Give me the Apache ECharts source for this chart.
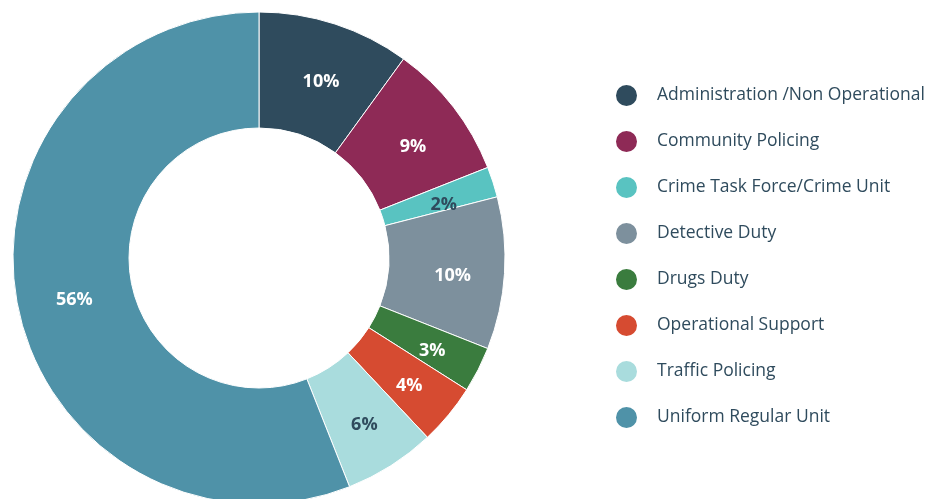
<!DOCTYPE html>
<html><head><meta charset="utf-8">
<script src="https://cdn.jsdelivr.net/npm/echarts@6/dist/echarts.min.js"></script>
<style>html,body{margin:0;padding:0;background:#fff}#c{width:929px;height:499px}</style>
</head><body><div id="c"></div>
<script>
const categories = ["Administration /Non Operational","Community Policing","Crime Task Force/Crime Unit","Detective Duty","Drugs Duty","Operational Support","Traffic Policing","Uniform Regular Unit"];
const values = [10, 9, 2, 10, 3, 4, 6, 56];
const colors = ["#2f4b5d","#8e2a56","#59c3c1","#7d909d","#3a7c3e","#d64b31","#a9dcdd","#4f92a8"];
const labelColors = ["#fff","#fff","#2f4b5d","#fff","#fff","#fff","#2f4b5d","#fff"];

const chart = echarts.init(document.getElementById('c'));
chart.setOption({
  animation: false,
  legend: {
    orient: 'vertical', left: 609, top: 78,
    icon: 'circle', itemWidth: 23, itemHeight: 23, itemGap: 21,
    data: categories,
    textStyle: { fontFamily: 'Open Sans', fontSize: 17.5, lineHeight: 23, color: '#2f4b5d', padding: [0,0,0,14] }
  },
  series: [{
    type: 'pie', center: [259, 258], radius: [130, 246], startAngle: 90, clockwise: true,
    avoidLabelOverlap: false,
    itemStyle: { borderColor: '#fff', borderWidth: 1 },
    label: { show: true, position: 'inside', fontFamily: 'Open Sans', fontWeight: 'bold', fontSize: 18,
      offset: [3, 6], formatter: p => p.value + '%' },
    labelLine: { show: false },
    emphasis: { disabled: true },
    data: categories.map((n, i) => ({ name: n, value: values[i], itemStyle: { color: colors[i] }, label: { color: labelColors[i] } }))
  }]
});
</script></body></html>
